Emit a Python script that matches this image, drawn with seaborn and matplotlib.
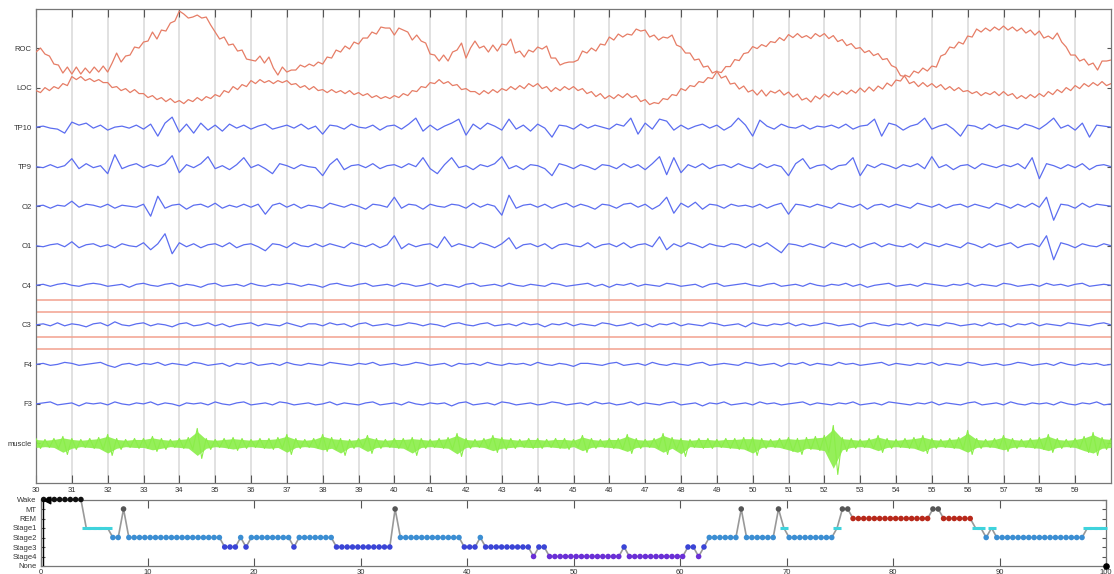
import numpy as np
import pandas as pd
import matplotlib
matplotlib.use("Agg")
import matplotlib.pyplot as plt
import seaborn as sns

# ---------------- data ----------------
channels = ["ROC", "LOC", "TP10", "TP9", "O2", "O1", "C4", "C3", "F4", "F3", "muscle"]

# eye channels sampled every 0.125 s from 30 s to 60 s (deflection px, + = up)
roc = [-4, 0, -6, -8, -16, -17, -25, -19,
       -26, -19, -26, -20, -25, -19, -24, -18,
       -24, -15, -5, -14, -8, -7, 1, 0,
       6, 7, 16, 9, 18, 17, 25, 27,
       37, 34, 30, 31, 33, 30, 31, 23,
       16, 9, 11, 3, 4, -3, -2, -11,
       -12, -13, -8, -15, -9, -20, -27, -19,
       -24, -22, -22, -17, -19, -16, -18, -14,
       -16, -9, -10, -2, -4, 2, -1, 6,
       4, 10, 10, 16, 14, 21, 20, 20,
       13, 20, 18, 16, 8, 13, 7, 5,
       -6, -7, -13, -7, -13, -4, -2, 5,
       -10, 0, 7, 0, 2, -4, 3, -3,
       4, 3, 9, -5, -3, -9, -2, -4,
       1, -1, 2, -10, -10, -17, -15, -14,
       -14, -12, -3, -5, 0, -3, 4, 3,
       11, 8, 14, 11, 14, 13, 19, 17,
       18, 11, 13, 8, 11, 10, 13, 3,
       1, -5, -5, -12, -11, -19, -18, -25,
       -23, -30, -28, -36, -35, -41, -38, -44,
       -42, -47, -42, -48, -43, -45, -42, -47,
       -44, -49, -46, -52, -50, -54, -48, -51,
       -46, -49, -44, -47, -43, -46, -42, -45,
       -40, -44, -39, -43, -38, -41, -35, -38,
       -32, -33, -27, -29, -23, -25, -20, -23,
       -18, -19, -8, -6, 1, 0, 6, 4,
       12, 11, 19, 16, 20, 17, 21, 18,
       22, 18, 21, 17, 20, 15, 18, 13,
       17, 10, 12, 9, 15, 6, 1, -7,
       -7, -13, -11, -17, -15, -22, -13, -13,
       -12]
loc = [-3, -5, 0, -3, 1, -1, 4, 2,
       11, 8, 11, 7, 9, 6, 8, 5,
       5, 0, 1, -3, -1, -5, -2, -6,
       -6, -10, -8, -12, -10, -14, -11, -15,
       -13, -16, -12, -14, -10, -13, -9, -11,
       -7, -9, -3, -5, 1, -2, 3, 1,
       7, 4, 8, 5, 7, 4, 7, 5,
       7, 3, 4, 0, 2, -2, 1, -3,
       -2, -5, -2, -5, -3, -6, -3, -7,
       -5, -8, -6, -10, -8, -11, -9, -11,
       -8, -10, -6, -8, -3, -4, 1, 0,
       5, 4, 8, 4, 6, 2, 3, -2,
       -1, -4, -4, -7, -3, -6, -2, -5,
       -1, -3, 1, -2, 2, -1, 4, 1,
       4, -1, 1, -4, 0, -3, 1, -2,
       1, -3, -1, -6, -4, -9, -6, -11,
       -8, -11, -7, -10, -6, -10, -8, -14,
       -12, -17, -15, -16, -11, -12, -7, -8,
       -1, -3, 2, 1, 6, 5, 10, 9,
       16, 15, 21, 21, 28, 27, 34, 35,
       41, 39, 43, 41, 46, 45, 50, 47,
       53, 50, 54, 50, 52, 49, 54, 51,
       54, 49, 52, 46, 48, 42, 44, 39,
       40, 35, 37, 32, 34, 28, 29, 22,
       20, 12, 11, 4, 6, 1, 5, 1,
       4, 0, 3, -2, 1, -3, 0, -4,
       -3, -6, -4, -8, -5, -7, -4, -8,
       -4, -8, -6, -11, -8, -11, -7, -10,
       -6, -9, -4, -7, -2, -5, 0, -3,
       2, -1, 4, 1, 5, 2, 6, 2,
       4]

# EEG channels sampled every 0.2 s from 30 s to 60 s (deflection px, + = up)
tp10 = [0, 1, -1, -2, -6, 5, 2, 4, -1, 2,
        -3, 0, 1, -1, 2, -2, 3, -9, 4, 10,
        -5, 3, -6, 4, -3, 2, -4, 3, -1, 2,
        -2, 1, 3, -2, 0, 2, -1, 3, -2, 1,
        -7, 2, 1, -2, 3, 0, -1, 2, -3, 1,
        2, -2, 3, 9, -4, 2, -3, 1, 4, 8,
        -8, 3, -2, 4, 1, -3, 8, -2, 2, -4,
        3, -1, -10, 2, 1, -2, 3, -1, 2, 0,
        -2, 3, 1, 9, -7, 4, -2, 8, 6, -3,
        2, -2, 1, 3, -1, 2, -3, 1, 9, 2,
        -9, 7, 1, -2, 3, 0, -1, 2, -2, 1,
        0, 2, -1, 3, -2, 1, 2, 8, -9, 4,
        2, -3, 1, 3, 9, -2, 1, 3, -2, -9,
        2, 1, -2, 3, -1, 2, 0, -2, 3, 1,
        -2, 3, 9, -1, 2, -3, 4, -10, 2, 1,
        0]
tp9 = [0, -1, 2, -1, 1, 8, -2, 3, -1, 1,
       -7, 12, -2, 1, 3, -1, 2, 0, 3, 11,
       -6, 2, -1, 3, 10, -2, 1, -3, 2, 9,
       -1, 2, -2, -7, 3, 1, -2, 2, 0, -1,
       -9, 2, 8, -3, 1, 2, -1, 3, -2, 1,
       2, -1, 3, 0, 9, -2, -7, 2, 9, -1,
       1, -3, 2, 0, 3, 10, -2, 1, -3, 2,
       1, -2, -9, 3, 1, -2, 2, 0, -3, 2,
       1, -2, 3, -1, 2, -3, 3, 10, -8, 9,
       -6, 2, -1, 3, -2, 1, 2, -1, 3, 0,
       -2, 3, -1, 2, 0, -9, 3, 8, -2, 1,
       2, -3, 1, 2, 9, -9, 2, -1, 3, 1,
       -2, 2, 0, 3, -2, 10, -1, 2, -3, 1,
       2, -2, 3, 1, -1, 2, 0, 3, -2, 9,
       -12, 3, 1, -2, 2, -1, 3, -3, 1, 2,
       0]
o2 = [0, 1, -2, 1, 0, 5, -1, 2, 1, -1,
      2, -2, 1, 0, -1, 2, -10, 10, -2, 1,
      2, -3, 1, 2, -1, 3, -2, 1, -1, 2,
      -1, 2, -8, 1, 3, -1, 2, -2, 1, 0,
      -2, 3, 1, -1, 2, 0, -3, 2, 1, -1,
      9, -2, 2, 1, -3, 2, 0, -1, 2, 1,
      -2, 3, -1, 2, 0, -9, 11, -2, 1, 2,
      -1, 2, -2, 1, 3, -1, 2, 0, -3, 2,
      1, -2, 2, 3, -1, 2, -3, 1, 9, -7,
      3, -1, 4, -3, 2, 1, -2, 2, 0, 1,
      -1, 2, -2, 1, 3, -8, 2, 1, -1, 2,
      0, -2, 3, 1, -1, 2, -3, 1, 2, -1,
      2, 0, -2, 3, 1, -1, 2, -2, 1, 2,
      -1, 2, 0, -2, 3, 1, -2, 2, -1, 3,
      -1, 9, -14, 2, 1, -2, 3, -1, 2, 1,
      0]
o1 = [0, -1, 1, 2, -1, 4, -2, 1, 2, -1,
      1, -2, 2, 0, -1, 3, -4, 2, 12, -8,
      3, -1, 2, -2, 1, 2, -1, 3, -2, 1,
      2, -1, -5, 2, 1, -2, 3, 0, -1, 2,
      -1, 2, 0, -2, 3, 1, -1, 2, -2, 1,
      10, -3, 2, -1, 1, 2, -2, 9, -1, 2,
      0, -2, 3, 1, -2, 2, 8, -3, 1, 2,
      -1, 2, -3, 1, 2, 0, -1, 3, -2, 1,
      2, -1, 3, -2, 1, 2, -1, 9, -4, 2,
      -1, 3, 1, -2, 2, 0, -1, 2, 1, -2,
      2, -1, 3, -2, -7, 2, 1, -1, 2, 0,
      -2, 3, 1, -1, 2, -2, 1, 3, -1, 2,
      0, -1, 2, -2, 3, 1, -1, 2, 0, -2,
      3, 1, -2, 2, -1, 1, 3, -2, 1, 2,
      -1, 10, -14, 3, 1, -2, 2, 0, -1, 2,
      0]
c4 = [0, 1, -1, 1, 2, 0, -1, 1, 2, 1,
      -1, 0, 1, -2, 1, 2, 0, -1, 1, 2,
      -1, 1, 0, -2, 1, 2, -1, 0, 1, -1,
      2, 0, -1, 1, 0, 2, 1, -1, 1, 0,
      -2, 1, 2, 0, -1, 1, 2, -1, 0, 1,
      -1, 2, 1, -1, 0, 2, -1, 1, 0, -2,
      1, 2, -1, 0, 1, -1, 2, 0, -1, 1,
      0, -1, 2, 1, -1, 0, 1, 2, -1, 1,
      -2, 1, 0, 2, -1, 1, 0, -1, 2, 1,
      -1, 0, 1, -2, 1, 2, -1, 0, 1, 2,
      0, -1, 1, 2, -1, 0, 1, -1, 2, 0,
      -1, 1, 0, 2, -1, 1, -2, 0, 1, 2,
      -1, 0, 1, -1, 2, 1, 0, -1, 1, 0,
      2, -1, 1, 0, -1, 2, 1, -1, 0, 1,
      -1, 2, 0, 1, -1, 1, 2, -1, 0, 1,
      0]
c3 = [0, 1, -1, 2, -1, 1, 0, -2, 1, 2,
      -1, 3, 0, -1, 1, 2, -1, 1, 0, -2,
      1, 2, -1, 0, 2, -1, 1, -2, 0, 1,
      2, -1, 1, 0, -1, 2, 0, -2, 1, 1,
      -1, 2, 0, 1, -2, 1, 2, -1, 0, 1,
      -1, 0, 2, 1, -1, 1, 0, -2, 1, 2,
      0, -1, 1, 2, -1, 0, 1, -1, 2, 0,
      1, -2, 1, 0, 2, -1, 1, 0, -1, 2,
      1, -1, 0, 2, -1, 1, -2, 1, 0, 2,
      -1, 1, 0, -1, 2, 1, -1, 0, 1, -2,
      2, 0, -1, 1, 0, 2, -1, 1, -1, 0,
      2, 1, -1, 0, 1, -2, 1, 2, 0, -1,
      1, 0, 2, -1, 1, 0, -1, 2, 1, -1,
      0, 1, -1, 2, 0, 1, -2, 1, 0, 2,
      -1, 1, 0, -1, 2, 1, 0, -1, 1, 2,
      0]
f4 = [0, 1, -1, 0, 2, 1, -1, 0, 1, 2,
      -1, -3, 0, 1, -1, 1, 0, 2, -1, 1,
      0, -1, 2, 1, -1, 0, 1, -2, 1, 0,
      2, -1, 0, 1, -1, 2, 0, -1, 1, 0,
      -1, 2, 1, 0, -1, 1, 0, 2, -1, 0,
      1, -1, 0, 2, 1, -1, 0, 1, -2, 1,
      0, 1, -1, 2, 0, -1, 1, 0, 1, -1,
      2, 0, -1, 1, 0, -2, 1, 1, 0, -1,
      1, 2, -1, 0, 1, -1, 2, 0, -1, 1,
      0, -1, 1, 2, -1, 0, 1, 0, -1, 2,
      1, -1, 0, 1, -2, 1, 0, 2, -1, 1,
      0, -1, 2, 0, 1, -1, 0, 1, 2, -1,
      1, 0, -1, 1, 0, 2, -1, 1, 0, -1,
      2, 1, -1, 0, 1, -1, 0, 2, 1, -1,
      0, 1, -1, 2, 0, -1, 1, 0, 1, -1,
      0]
f3 = [0, 1, 2, -1, 0, 1, -2, 1, 0, 1,
      -1, 2, 0, -1, 1, 0, 2, -1, 1, 0,
      -2, 1, 0, 1, -1, 2, 0, -1, 1, 2,
      -1, 0, 1, -1, 2, 1, -1, 0, 1, -1,
      0, 2, -1, 1, 0, -1, 1, 2, -1, 0,
      1, -1, 2, 0, -1, 1, 0, 1, -2, 1,
      2, -1, 0, 1, -1, 2, 1, -1, 0, 1,
      -1, 0, 2, 1, -1, 0, 1, -1, 2, 0,
      1, -1, 0, 2, -1, 1, 0, -1, 1, 2,
      -1, 0, 1, -2, 1, 0, 2, -1, 0, 1,
      -1, 2, 0, 1, -1, 0, 1, 2, -1, 1,
      0, -1, 1, 0, 2, -1, 0, 1, -1, 2,
      1, 0, -1, 1, 0, 2, -1, 1, 0, -1,
      1, 2, -1, 0, 1, -1, 2, 0, -1, 1,
      0, 1, -1, 2, 0, -1, 1, 0, 2, -1,
      0]

# muscle band extent every 0.25 s (px above / below baseline)
muscle_up = [5, 4, 5, 7, 5, 4, 5, 6, 9, 5, 4, 5, 5, 7, 5, 4, 5, 6, 15, 5,
             4, 5, 6, 5, 4, 5, 5, 6, 9, 5, 4, 5, 9, 6, 5, 4, 5, 8, 5, 4,
             5, 5, 6, 5, 4, 5, 6, 10, 5, 4, 5, 8, 6, 5, 4, 5, 5, 4, 5, 5,
             4, 8, 5, 4, 5, 5, 9, 5, 4, 5, 10, 6, 5, 4, 5, 5, 4, 5, 5, 6,
             6, 5, 4, 5, 6, 5, 6, 7, 8, 18, 6, 5, 4, 5, 8, 5, 4, 5, 6, 8,
             5, 4, 5, 6, 13, 5, 4, 5, 8, 5, 4, 5, 6, 9, 5, 4, 5, 7, 11, 6,
             5]
muscle_dn = [5, 4, 5, 11, 6, 4, 5, 6, 12, 6, 4, 5, 5, 8, 6, 4, 5, 6, 15, 6,
             4, 5, 7, 5, 4, 5, 6, 5, 11, 5, 4, 5, 8, 6, 12, 5, 4, 10, 5, 4,
             5, 6, 12, 5, 4, 5, 6, 13, 5, 4, 5, 9, 6, 5, 4, 5, 5, 4, 5, 6,
             4, 9, 5, 4, 5, 6, 10, 5, 4, 5, 11, 6, 13, 4, 5, 5, 4, 5, 6, 7,
             12, 5, 4, 5, 8, 11, 6, 7, 9, 31, 8, 5, 4, 5, 9, 5, 4, 5, 6, 10,
             5, 4, 5, 6, 11, 5, 4, 5, 8, 5, 4, 5, 6, 9, 5, 4, 5, 9, 12, 6,
             5]

# reference amplitude lines around C3 (px)
c3_ref_lines = [24.5, 12.5, -12.5, -24.5]

# hypnogram (30-s epochs, run-length encoded)
stage_names = ["None", "Stage4", "Stage3", "Stage2", "Stage1", "REM", "MT", "Wake"]
hyp_runs = ["Wake", "Stage1", "Stage2", "MT", "Stage2", "Stage3", "Stage2", "Stage3", "Stage2", "Stage3",
            "Stage2", "Stage3", "MT", "Stage2", "Stage3", "Stage2", "Stage3", "Stage4", "Stage3", "Stage4",
            "Stage3", "Stage4", "Stage3", "Stage4", "Stage3", "Stage2", "MT", "Stage2", "MT", "Stage1",
            "Stage2", "Stage1", "MT", "REM", "MT", "REM", "Stage1", "Stage2", "Stage1", "Stage2", "Stage1"]
hyp_lengths = [8, 5, 2, 1, 18, 3, 1, 1, 8, 1,
               7, 11, 1, 12, 3, 1, 9, 1, 2, 14,
               1, 11, 2, 1, 1, 6, 1, 6, 1, 1,
               9, 1, 2, 15, 2, 6, 2, 1, 1, 17, 4]
stage_colors = {"Wake": "#111111", "MT": "#555555", "REM": "#b8281a", "Stage1": "#3fd3dc",
                "Stage2": "#3b8ed3", "Stage3": "#3a44d6", "Stage4": "#6a2fd6"}

# ---------------- drawing ----------------
sns.set_style("white")
plt.rcParams["font.family"] = ["Liberation Sans", "DejaVu Sans"]

W, H = 1114, 574
fig = plt.figure(figsize=(W / 100, H / 100), dpi=100)
ax = fig.add_axes([36 / W, 1 - 483 / H, (1111 - 36) / W, (483 - 8.5) / H])
hx = fig.add_axes([41 / W, 1 - 566 / H, (1106 - 41) / W, (566 - 499.5) / H])

PX = (483 - 8.5) / 12.0  # pixels per channel slot
n_ch = len(channels)
base = {ch: n_ch - k for k, ch in enumerate(channels)}

red = "#e67d66"
blue = "#5b6df0"
green = "#8aee48"

for s in range(31, 60):
    ax.axvline(s, color="#d8d8d8", lw=1.1, zorder=0)

for y in c3_ref_lines:
    ax.axhline(base["C3"] + y / PX, color="#f2a08e", lw=1.1, zorder=1)

eye_t = np.round(30 + 0.125 * np.arange(len(roc)), 3)
for ch, vv in [("ROC", roc), ("LOC", loc)]:
    sns.lineplot(x=eye_t, y=base[ch] + np.array(vv) / PX, ax=ax, color=red, lw=0.9,
                 estimator=None, sort=False, zorder=3)

eeg_t = np.round(30 + 0.2 * np.arange(len(tp10)), 2)
for ch, vv in [("TP10", tp10), ("TP9", tp9), ("O2", o2), ("O1", o1),
               ("C4", c4), ("C3", c3), ("F4", f4), ("F3", f3)]:
    sns.lineplot(x=eeg_t, y=base[ch] + np.array(vv) / PX, ax=ax, color=blue, lw=0.9,
                 estimator=None, sort=False, zorder=3)

# muscle: filled band plus zigzag between the upper and lower extents
mt = 30 + 0.25 * np.arange(len(muscle_up))
up = base["muscle"] + np.array(muscle_up) / PX
dn = base["muscle"] - np.array(muscle_dn) / PX
ax.fill_between(mt, dn * 0.8 + base["muscle"] * 0.2, up * 0.8 + base["muscle"] * 0.2,
                color=green, lw=0, alpha=0.9, zorder=3)
zx = np.empty(2 * len(mt))
zy = np.empty(2 * len(mt))
zx[0::2], zx[1::2] = mt, mt + 0.125
zy[0::2], zy[1::2] = up, dn
sns.lineplot(x=zx, y=zy, ax=ax, color=green, lw=0.8, estimator=None, sort=False, zorder=3)

ax.set_xlim(30, 60)
ax.set_ylim(0, 12)
ax.set_xticks(range(30, 60))
ax.set_xticklabels([str(v) for v in range(30, 60)])
ax.set_yticks([base[c] for c in channels])
ax.set_yticklabels(channels)
ax.tick_params(axis="x", direction="in", top=True, bottom=True, length=6, width=0.8,
               color="#555555", labelsize=5.5, labelcolor="#333333", pad=3)
ax.tick_params(axis="y", direction="in", left=True, right=True, length=3, width=0.8,
               color="#555555", labelsize=5.5, labelcolor="#333333", pad=3)
ax.set_xlabel("")
ax.set_ylabel("")
for sp in ax.spines.values():
    sp.set_color("#777777")
    sp.set_linewidth(0.9)

# hypnogram
level = {s: i for i, s in enumerate(stage_names)}
stages = np.repeat(hyp_runs, hyp_lengths)
ex = 0.25 + 0.5 * np.arange(len(stages))
ey = np.array([level[s] for s in stages])
hdf = pd.DataFrame({"x": ex, "y": ey, "stage": stages})
sns.lineplot(data=hdf, x="x", y="y", ax=hx, color="#999999", lw=1.2, estimator=None, sort=False,
             zorder=2, clip_on=False)
for st, col in stage_colors.items():
    sub = hdf[hdf["stage"] == st]
    if st == "Stage1":
        hx.scatter(sub["x"], sub["y"], marker="_", s=26, linewidths=2.2, color=col, zorder=3, clip_on=False)
    else:
        sns.scatterplot(data=sub, x="x", y="y", ax=hx, color=col, s=16, edgecolor="none",
                        zorder=3, clip_on=False)
hx.axvline(0.2, color="k", lw=1.0, zorder=4)
hx.scatter([0.6], [7], marker="<", s=22, color="k", zorder=5, clip_on=False)
hx.scatter([100], [0], marker="o", s=14, color="k", zorder=5, clip_on=False)

hx.set_xlim(0, 100)
hx.set_ylim(0, 7)
hx.set_xticks(range(0, 101, 10))
hx.set_xticklabels([str(v) for v in range(0, 101, 10)])
hx.set_yticks(range(len(stage_names)))
hx.set_yticklabels(stage_names)
hx.tick_params(axis="x", direction="in", top=True, bottom=True, length=6, width=0.8,
               color="#555555", labelsize=5.5, labelcolor="#333333", pad=2)
hx.tick_params(axis="y", direction="in", left=True, right=True, length=3, width=0.8,
               color="#555555", labelsize=5.5, labelcolor="#333333", pad=3)
hx.set_xlabel("")
hx.set_ylabel("")
for sp in hx.spines.values():
    sp.set_color("#777777")
    sp.set_linewidth(0.9)

fig.savefig("out.png", dpi=100, facecolor="white")
